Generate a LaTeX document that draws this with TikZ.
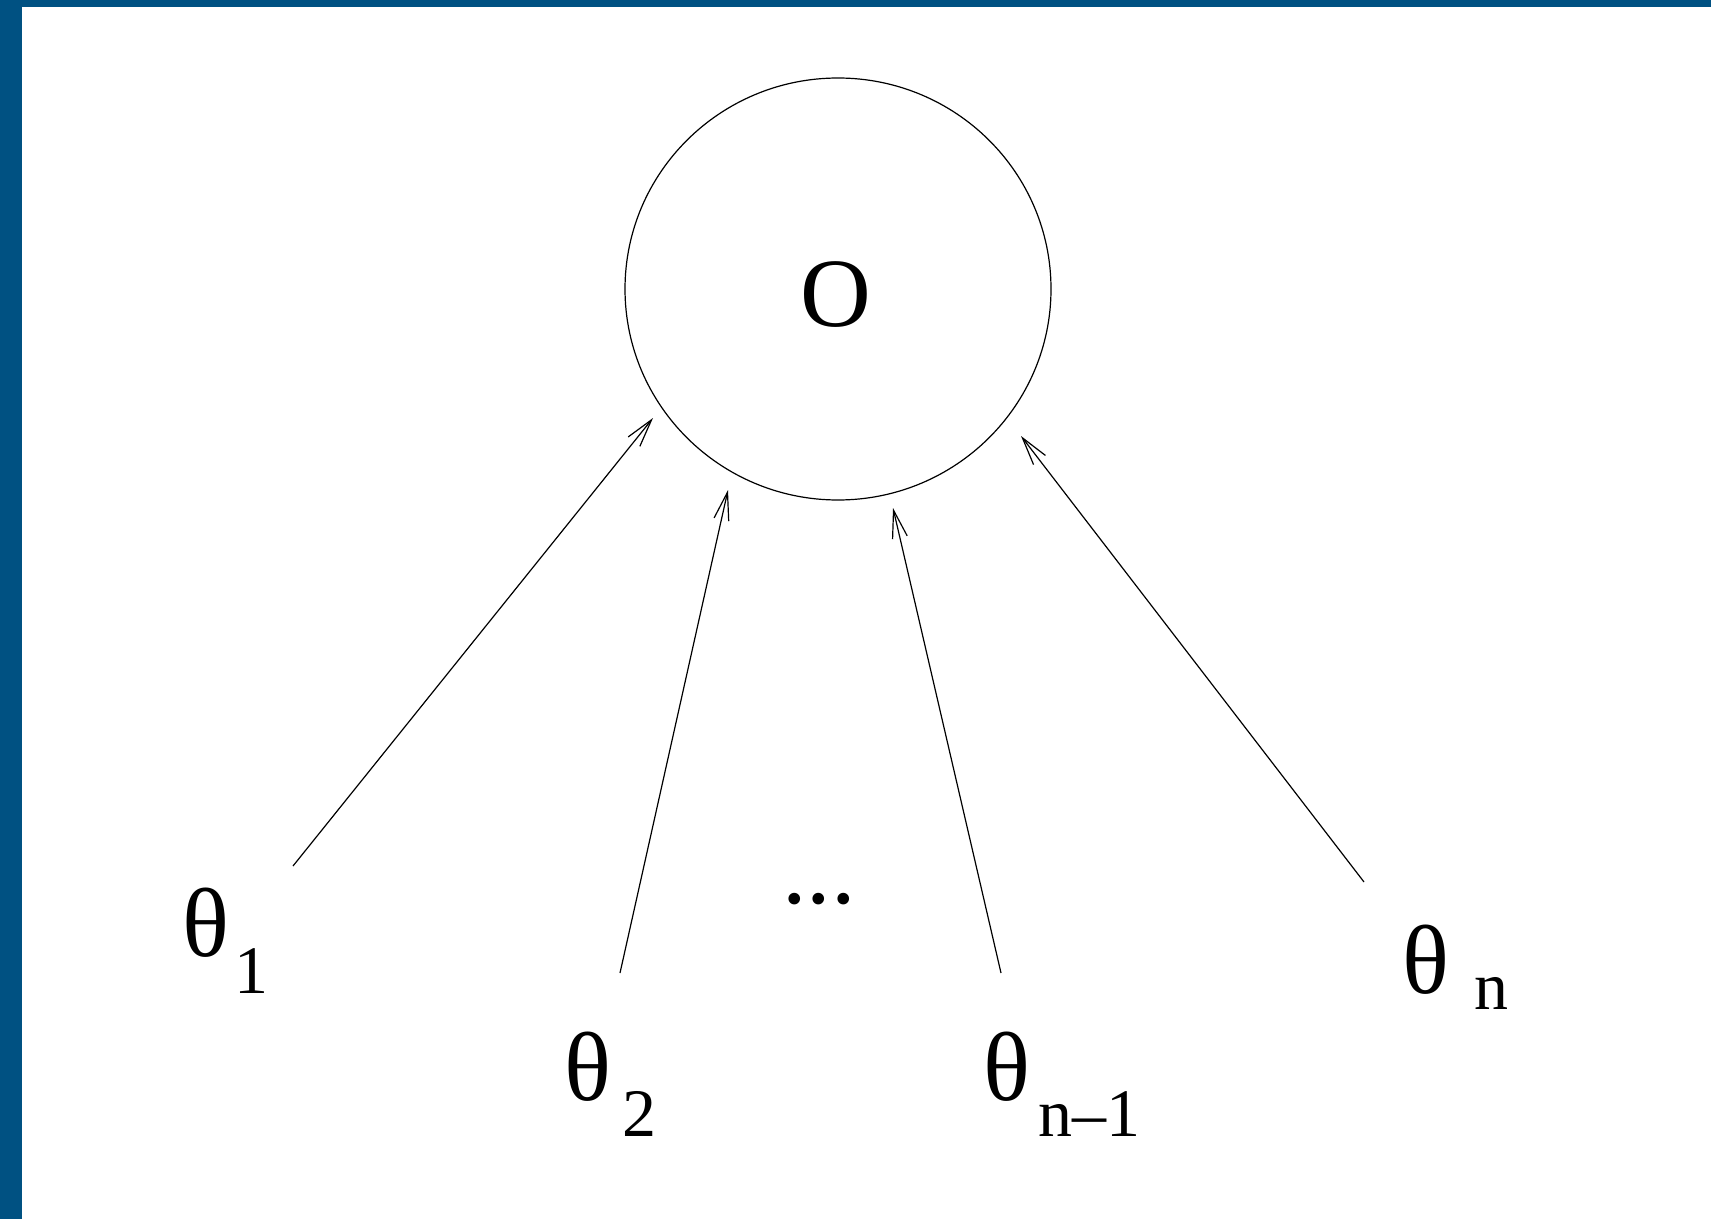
\documentclass[tikz,border=0pt]{standalone}
\usepackage{fontspec}
\setmainfont{Liberation Serif}
\usetikzlibrary{arrows.meta,shapes.geometric}
\definecolor{frameblue}{RGB}{0,81,130}
\newcommand{\thsize}{\fontsize{49}{49}\selectfont}
\newcommand{\subsz}{\fontsize{34}{34}\selectfont}
\begin{document}
\begin{tikzpicture}[x=0.5pt,y=-0.5pt,
  lbl/.style={inner sep=0pt, outer sep=0pt, anchor=base west, font=\thsize},
  arr/.style={line width=0.6pt, -{Straight Barb[length=14pt,width=7.5pt,line width=0.6pt]}}]
\useasboundingbox (0,0) rectangle (1711,1219);
\fill[white] (0,0) rectangle (1711,1219);
\fill[frameblue] (0,0) rectangle (22,1219);
\fill[frameblue] (0,0) rectangle (1711,7);
% central node
\node[draw, ellipse, minimum width=213pt, minimum height=211pt, inner sep=0pt, line width=0.6pt] (O) at (838,289) {};
\node[inner sep=0pt, font=\thsize] (Olab) at (836,295) {O};
% labels
\node[lbl] (t1) at (182,956) {θ\hspace{3pt}\raisebox{-18.5pt}{\subsz 1}};
\node[lbl] (t2) at (564,1100) {θ\hspace{6pt}\raisebox{-18pt}{\subsz 2}};
\node[lbl] (dots) at (782,903) {...};
\node[lbl] (tn1) at (983,1100) {θ\hspace{4.5pt}\raisebox{-18pt}{\subsz n–1}};
\node[lbl] (tn) at (1402,993) {θ\hspace{13pt}\raisebox{-8pt}{\subsz n}};
% connector ends
\coordinate (s1) at (293,866);
\coordinate (e1) at (653,418);
\coordinate (s2) at (620,973);
\coordinate (e2) at (728,490);
\coordinate (s3) at (1001,973);
\coordinate (e3) at (893,508);
\coordinate (s4) at (1364,882);
\coordinate (e4) at (1021,436);
\draw[arr] (s1) -- (e1);
\draw[arr] (s2) -- (e2);
\draw[arr] (s3) -- (e3);
\draw[arr] (s4) -- (e4);
\end{tikzpicture}
\end{document}
